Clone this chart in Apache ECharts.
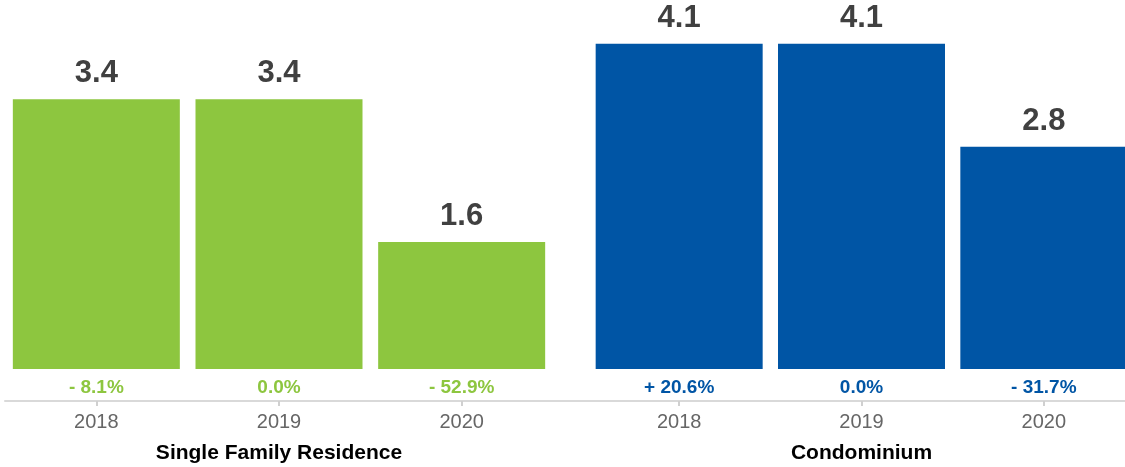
<!DOCTYPE html>
<html>
<head>
<meta charset="utf-8">
<script src="https://cdn.jsdelivr.net/npm/echarts@6/dist/echarts.min.js"></script>
<style>
  html, body { margin: 0; padding: 0; background: #fff; }
  #chart { width: 1125px; height: 467px; }
</style>
</head>
<body>
<div id="chart"></div>
<script>
// values
var years = ['2018', '2019', '2020'];
var sfrValues = [3.4, 3.4, 1.6];
var condoValues = [4.1, 4.1, 2.8];
var sfrChange = ['- 8.1%', '0.0%', '- 52.9%'];
var condoChange = ['+ 20.6%', '0.0%', '- 31.7%'];
var groupNames = ['Single Family Residence', 'Condominium'];

var green = '#8dc63f';
var blue = '#0055a5';
var font = '"Liberation Sans", Arial, Helvetica, sans-serif';

var myChart = echarts.init(document.getElementById('chart'));

function barAxis(grid) {
    return {
        type: 'category', gridIndex: grid, data: years,
        axisLine: { show: false }, axisTick: { show: false }, axisLabel: { show: false }
    };
}

function yearAxis(grid, name) {
    return {
        type: 'category', gridIndex: grid, data: years,
        axisLine: { show: false },
        axisTick: { show: true, length: 5, alignWithLabel: true, lineStyle: { color: '#d0d0d0', width: 2 } },
        axisLabel: { color: '#666', fontSize: 20, fontFamily: font, margin: 11 },
        name: name, nameLocation: 'middle', nameGap: 42,
        nameTextStyle: { color: '#000', fontSize: 21, fontWeight: 'bold', fontFamily: font }
    };
}

function changeAxis(grid, labels, color) {
    return {
        type: 'category', gridIndex: grid, data: labels, position: 'bottom',
        axisLine: { show: false }, axisTick: { show: false },
        axisLabel: { inside: true, margin: 4, color: color, fontSize: 19, fontWeight: 'bold', fontFamily: font }
    };
}

function hiddenY(grid, max) {
    return { type: 'value', gridIndex: grid, min: 0, max: max, show: false, splitLine: { show: false } };
}

function barSeries(xi, yi, values, color) {
    return {
        type: 'bar', xAxisIndex: xi, yAxisIndex: yi, data: values,
        barWidth: 167, itemStyle: { color: color },
        label: {
            show: true, position: 'top', distance: 10,
            color: '#404040', fontSize: 31, fontWeight: 'bold', fontFamily: font,
            formatter: function (p) { return p.value.toFixed(1); }
        }
    };
}

myChart.setOption({
    animation: false,
    grid: [
        { left: 5, width: 548, top: 4, bottom: 98, outerBoundsMode: 'none' },      // green bars
        { left: 588, width: 547, top: 4, bottom: 98, outerBoundsMode: 'none' },    // blue bars
        { left: 5, width: 548, top: 300, bottom: 66, outerBoundsMode: 'none' },    // green labels
        { left: 588, width: 547, top: 300, bottom: 66, outerBoundsMode: 'none' },  // blue labels
        { left: 5, right: 0, top: 300, bottom: 66, outerBoundsMode: 'none' }       // base line
    ],
    xAxis: [
        barAxis(0),
        barAxis(1),
        yearAxis(2, groupNames[0]),
        yearAxis(3, groupNames[1]),
        changeAxis(2, sfrChange, green),
        changeAxis(3, condoChange, blue),
        {
            type: 'category', gridIndex: 4, data: [''],
            axisLine: { show: true, lineStyle: { color: '#d9d9d9', width: 2 } },
            axisTick: { show: false }, axisLabel: { show: false }
        }
    ],
    yAxis: [hiddenY(0, 4.6), hiddenY(1, 4.6), hiddenY(2, 1), hiddenY(3, 1), hiddenY(4, 1)],
    series: [
        barSeries(0, 0, sfrValues, green),
        barSeries(1, 1, condoValues, blue)
    ]
});
</script>
</body>
</html>
